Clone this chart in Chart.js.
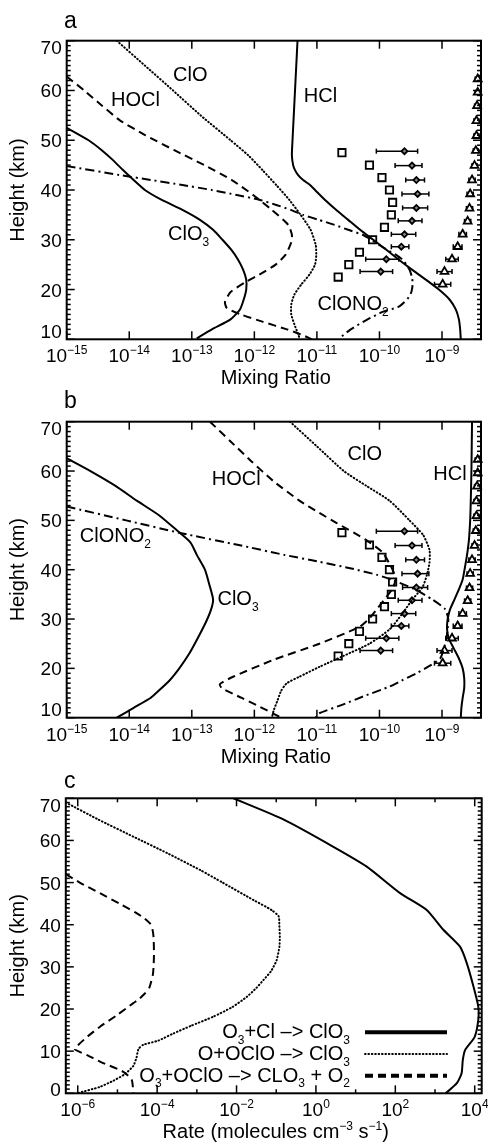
<!DOCTYPE html>
<html>
<head>
<meta charset="utf-8">
<script src="https://cdn.jsdelivr.net/npm/chart.js@4.4.1/dist/chart.umd.min.js"></script>
<style>
  html, body { margin: 0; padding: 0; background: #fff; }
  #wrap { position: relative; width: 488px; height: 1147px; }
  canvas { position: absolute; left: 0; }
</style>
</head>
<body>
<div id="wrap">
  <canvas id="chartA" width="488" height="400" style="top:0px"></canvas>
  <canvas id="chartB" width="488" height="400" style="top:378px"></canvas>
  <canvas id="chartC" width="488" height="389" style="top:758px"></canvas>
</div>
<script>
// ---- panel a: model profiles (height km, log10 mixing ratio) ----
const hclAHeight = [70, 65, 60, 55, 50, 47, 45, 44, 43, 42, 41, 40, 38, 36, 34, 32, 30, 28, 26, 24, 22, 20, 18, 16, 14, 12, 10];
const hclALog = [-11.31, -11.33, -11.35, -11.37, -11.39, -11.40, -11.38, -11.35, -11.30, -11.22, -11.11, -11.03, -10.87, -10.69, -10.50, -10.31, -10.10, -9.89, -9.69, -9.48, -9.26, -9.05, -8.88, -8.78, -8.73, -8.71, -8.70];

const cloAHeight = [70, 65, 60, 55, 50, 47, 44, 41, 38, 35, 32, 29, 27, 25, 23, 21, 19, 17, 15, 13, 11, 10];
const cloALog = [-14.20, -13.75, -13.30, -12.86, -12.38, -12.10, -11.87, -11.65, -11.44, -11.26, -11.10, -11.02, -11.01, -11.03, -11.12, -11.25, -11.36, -11.41, -11.41, -11.36, -11.30, -11.27];

const hoclAHeight = [62.8, 60, 57, 54, 51, 48, 45, 42, 39, 36, 33, 31, 29.5, 27, 25, 23, 21.5, 19.5, 17.5, 16.3, 15, 13.5, 12, 11, 10];
const hoclALog = [-15.0, -14.72, -14.44, -14.15, -13.74, -13.28, -12.80, -12.36, -12.02, -11.72, -11.46, -11.40, -11.41, -11.50, -11.66, -11.92, -12.14, -12.38, -12.47, -12.44, -12.22, -11.86, -11.48, -11.26, -11.08];

const clono2AHeight = [44.8, 43, 42, 41, 40, 39, 38, 37, 36, 35, 34, 33, 32, 31, 30, 29, 28, 27, 26, 25, 24, 22.5, 21, 19.5, 18.5, 17.5, 16.5, 15.5, 14, 12, 10.2];
const clono2ALog = [-15.0, -14.15, -13.65, -13.15, -12.68, -12.28, -11.91, -11.65, -11.42, -11.22, -10.97, -10.72, -10.50, -10.27, -10.13, -10.01, -9.88, -9.74, -9.63, -9.57, -9.52, -9.48, -9.47, -9.49, -9.53, -9.60, -9.70, -9.95, -10.19, -10.46, -10.64];

const clo3AHeight = [52.5, 50, 48, 46, 44, 42, 40, 38, 36, 34, 32, 30, 28, 26, 24, 22, 20, 18, 16, 14, 12, 10.2];
const clo3ALog = [-15.0, -14.65, -14.44, -14.26, -14.10, -13.93, -13.75, -13.48, -13.15, -12.87, -12.66, -12.51, -12.37, -12.26, -12.18, -12.13, -12.13, -12.17, -12.23, -12.38, -12.68, -12.92];

// ---- panel b: model profiles ----
const hclBHeight = [70, 60, 54, 50, 46, 43, 40, 38, 36, 34, 32, 30, 28, 26, 24, 22, 20, 18, 16, 14, 12, 10];
const hclBLog = [-8.52, -8.53, -8.54, -8.55, -8.57, -8.60, -8.64, -8.67, -8.73, -8.80, -8.87, -8.91, -8.92, -8.89, -8.81, -8.73, -8.67, -8.645, -8.645, -8.67, -8.69, -8.70];

const cloBHeight = [70, 65, 60, 57, 54, 50, 47, 44, 41.5, 39, 36.5, 34, 31, 28, 25, 22.5, 20.3, 18.3, 17, 15.5, 13.5, 11.5, 10];
const cloBLog = [-11.43, -11.00, -10.57, -10.21, -9.84, -9.52, -9.30, -9.20, -9.20, -9.24, -9.31, -9.47, -9.64, -9.83, -10.16, -10.58, -10.96, -11.28, -11.48, -11.57, -11.63, -11.69, -11.72];

const hoclBHeight = [70, 66, 62, 58, 54, 51.5, 49.5, 46, 43.5, 40, 38, 36, 34.5, 32, 30, 28.4, 25, 21.7, 18.3, 16.8, 16, 14, 12.2, 10.2];
const hoclBLog = [-12.71, -12.38, -12.05, -11.70, -11.28, -10.96, -10.69, -10.21, -9.95, -9.79, -9.74, -9.80, -9.89, -10.04, -10.17, -10.32, -10.96, -11.70, -12.34, -12.55, -12.52, -12.20, -11.91, -11.60];

const clono2BHeight = [52.8, 50, 47.4, 45, 43, 41.6, 40.3, 39, 37.9, 36, 34, 32, 30, 28, 26, 24, 22, 20.5, 19, 17.5, 16.3, 14.5, 12.5, 10.9, 10];
const clono2BLog = [-15.0, -14.05, -13.17, -12.25, -11.52, -10.96, -10.47, -10.05, -9.79, -9.43, -9.16, -8.95, -8.90, -8.91, -8.93, -8.97, -9.03, -9.20, -9.41, -9.65, -9.84, -10.22, -10.62, -10.96, -11.02];

const clo3BHeight = [62.6, 60, 57, 54, 51, 48, 45.5, 43, 40, 37, 34, 32, 29.5, 26, 23, 20, 17.5, 15, 14, 12, 10];
const clo3BLog = [-15.0, -14.62, -14.22, -13.88, -13.52, -13.24, -13.02, -12.92, -12.79, -12.72, -12.66, -12.69, -12.77, -12.91, -13.04, -13.20, -13.36, -13.57, -13.66, -13.93, -14.20];

// ---- observations (same in panels a and b) ----
const squareHeight = [47.5, 45, 42.5, 40, 37.5, 35, 32.5, 30, 27.5, 25, 22.5];
const squareLog = [-10.60, -10.16, -9.96, -9.84, -9.79, -9.81, -9.92, -10.11, -10.32, -10.49, -10.66];

const diamondHeight = [47.8, 44.9, 42.0, 39.2, 36.4, 33.8, 31.1, 28.6, 26.1, 23.6];
const diamondLog = [-9.60, -9.48, -9.41, -9.39, -9.41, -9.48, -9.60, -9.65, -9.89, -9.98];
const diamondLoLog = [-10.05, -9.75, -9.58, -9.64, -9.63, -9.70, -9.81, -9.81, -10.22, -10.31];
const diamondHiLog = [-9.39, -9.32, -9.28, -9.21, -9.23, -9.32, -9.42, -9.53, -9.69, -9.79];

const triangleHeight = [62.3, 59.6, 56.9, 53.9, 50.9, 47.9, 44.9, 42.0, 39.2, 36.3, 33.7, 31.1, 28.6, 26.1, 23.6, 21.05];
const triangleLog = [-8.43, -8.43, -8.44, -8.45, -8.45, -8.46, -8.48, -8.52, -8.55, -8.56, -8.59, -8.67, -8.75, -8.84, -8.96, -8.99];
const triangleErrLog = [0.04, 0.04, 0.04, 0.04, 0.04, 0.04, 0.04, 0.05, 0.05, 0.05, 0.05, 0.06, 0.07, 0.10, 0.12, 0.13];

// ---- panel c: rates (height km, log10 rate) ----
const o3ClHeight = [70, 65, 58.5, 53.8, 47.5, 43.5, 38.8, 34.8, 30.9, 25.3, 20.6, 17.4, 13.4, 10.3, 7.9, 4.75, 2.4, 0];
const o3ClLog = [-2.08, -0.82, 0.44, 1.28, 2.12, 2.79, 3.21, 3.63, 3.80, 3.97, 4.09, 4.09, 4.00, 3.76, 3.70, 3.67, 3.55, 3.27];

const oOcloHeight = [69, 65, 60.9, 57, 53, 50, 45.9, 43.5, 42, 39.6, 37, 34.8, 31.6, 29, 26.9, 25, 22.9, 20.5, 18.2, 16, 14.2, 12.5, 11.5, 10.5, 8.5, 6.5, 4.5, 3, 1.5, 0];
const oOcloLog = [-6.30, -5.49, -4.60, -3.75, -2.92, -2.35, -1.58, -1.12, -0.94, -0.92, -0.91, -0.92, -0.99, -1.13, -1.32, -1.50, -1.74, -2.10, -2.58, -3.15, -3.59, -3.97, -4.35, -4.47, -4.52, -4.60, -4.82, -5.10, -5.45, -6.02];

const o3OcloHeight = [52, 50, 47.5, 45, 42.7, 41.5, 40.3, 39, 37, 33, 30, 28, 26.5, 25, 23.5, 22.3, 21.4, 18.5, 15.8, 13.5, 11.1, 10.4, 9, 7.5, 5.1, 3.2, 0];
const o3OcloLog = [-6.30, -5.95, -5.44, -4.95, -4.51, -4.32, -4.18, -4.12, -4.09, -4.08, -4.09, -4.11, -4.15, -4.20, -4.33, -4.46, -4.60, -5.02, -5.44, -5.75, -6.03, -6.07, -5.75, -5.44, -4.85, -4.64, -4.60];

// ---- tick labels ----
const mixTickExp = [-15, -14, -13, -12, -11, -10, -9];
const rateTickExp = [-6, -5, -4, -3, -2, -1, 0, 1, 2, 3, 4];
const rateLabelExp = [-6, -4, -2, 0, 2, 4];
const heightTicksAB = [10, 20, 30, 40, 50, 60, 70];
const heightTicksC = [0, 10, 20, 30, 40, 50, 60, 70];

const FONT = '"Liberation Sans", Arial, Helvetica, sans-serif';
const DASH = { solid: [], dot: [0.6, 2.8], dash: [8, 5], dashdot: [9, 4, 2, 4] };

function curve(heights, logs, style) {
  return {
    data: heights.map((h, i) => ({ x: Math.pow(10, logs[i]), y: h })),
    showLine: true,
    pointRadius: 0,
    borderColor: '#000',
    borderWidth: 2,
    borderDash: DASH[style],
    borderCapStyle: style === 'dot' ? 'round' : 'butt',
    tension: 0.2,
    fill: false
  };
}

function markers(heights, logs, shape, radius, fillColor, lo, hi) {
  const ds = {
    data: heights.map((h, i) => ({ x: Math.pow(10, logs[i]), y: h })),
    showLine: false,
    pointStyle: shape,
    pointRadius: radius,
    pointBorderWidth: 1.8,
    pointBorderColor: '#000',
    pointBackgroundColor: fillColor,
    clip: false
  };
  if (lo) {
    ds.errLo = lo.map(v => Math.pow(10, v));
    ds.errHi = hi.map(v => Math.pow(10, v));
  }
  return ds;
}

// rich text: _x or _{..} subscript, ^x or ^{..} superscript
function parseRich(str) {
  const out = [];
  let buf = '', i = 0;
  while (i < str.length) {
    const c = str[i];
    if (c === '_' || c === '^') {
      if (buf) { out.push({ t: buf, m: 0 }); buf = ''; }
      let t;
      if (str[i + 1] === '{') {
        const j = str.indexOf('}', i);
        t = str.slice(i + 2, j);
        i = j + 1;
      } else {
        t = str[i + 1];
        i += 2;
      }
      out.push({ t: t, m: c === '_' ? 1 : 2 });
    } else {
      buf += c;
      i++;
    }
  }
  if (buf) out.push({ t: buf, m: 0 });
  return out;
}

function drawRich(ctx, str, x, y, align, size) {
  const segs = parseRich(str);
  const small = Math.round(size * 0.62);
  let w = 0;
  segs.forEach(s => {
    ctx.font = (s.m ? small : size) + 'px ' + FONT;
    s.w = ctx.measureText(s.t).width;
    w += s.w;
  });
  let cx = align === 'center' ? x - w / 2 : (align === 'right' ? x - w : x);
  ctx.textAlign = 'left';
  ctx.textBaseline = 'alphabetic';
  segs.forEach(s => {
    ctx.font = (s.m ? small : size) + 'px ' + FONT;
    const dy = s.m === 1 ? size * 0.28 : (s.m === 2 ? -size * 0.42 : 0);
    ctx.fillText(s.t, cx, y + dy);
    cx += s.w;
  });
}

function seg(ctx, x1, y1, x2, y2) {
  ctx.beginPath();
  ctx.moveTo(x1, y1);
  ctx.lineTo(x2, y2);
  ctx.stroke();
}

const framePlugin = {
  id: 'frame',
  beforeDatasetsDraw(chart) {
    const { ctx, scales: { x, y } } = chart;
    ctx.save();
    ctx.strokeStyle = '#000';
    ctx.lineWidth = 1.5;
    chart.data.datasets.forEach(ds => {
      if (!ds.errLo) return;
      ds.data.forEach((p, i) => {
        const py = y.getPixelForValue(p.y);
        const x1 = x.getPixelForValue(ds.errLo[i]);
        const x2 = x.getPixelForValue(ds.errHi[i]);
        seg(ctx, x1, py, x2, py);
        seg(ctx, x1, py - 2.5, x1, py + 2.5);
        seg(ctx, x2, py - 2.5, x2, py + 2.5);
      });
    });
    ctx.restore();
  },
  afterDraw(chart, args, opts) {
    const { ctx, chartArea: a, scales: { x, y } } = chart;
    ctx.save();
    ctx.fillStyle = '#000';
    ctx.strokeStyle = '#000';

    // y ticks (minor every km, major at labels), both sides
    ctx.lineWidth = 1.5;
    for (let h = Math.ceil(y.min); h <= y.max; h++) {
      const py = y.getPixelForValue(h);
      const len = opts.yTicks.includes(h) ? 8 : 4;
      seg(ctx, a.left, py, a.left + len, py);
      seg(ctx, a.right, py, a.right - len, py);
    }
    // x ticks, top and bottom
    opts.xTickExp.forEach(e => {
      const px = x.getPixelForValue(Math.pow(10, e));
      const len = opts.xLabelExp.includes(e) ? 8 : 4;
      seg(ctx, px, a.bottom, px, a.bottom - len);
      seg(ctx, px, a.top, px, a.top + len);
    });
    // box
    ctx.lineWidth = 2;
    ctx.strokeRect(a.left, a.top, a.right - a.left, a.bottom - a.top);

    // x tick labels
    opts.xLabelExp.forEach(e => {
      const px = x.getPixelForValue(Math.pow(10, e));
      drawRich(ctx, '10^{' + String(e).replace('-', '\u2212') + '}', px, a.bottom + 23, 'center', 19);
    });
    // y tick labels
    ctx.font = '19px ' + FONT;
    ctx.textAlign = 'right';
    ctx.textBaseline = 'alphabetic';
    opts.yTicks.forEach(h => {
      let base = y.getPixelForValue(h) + 7;
      base = Math.max(a.top + 13.5, Math.min(a.bottom + opts.yLabelLow, base));
      ctx.fillText(String(h), a.left - 5, base);
    });

    // axis titles
    drawRich(ctx, opts.xTitle, (a.left + a.right) / 2 + 2, a.bottom + 45, 'center', 20);
    ctx.save();
    ctx.translate(24, (a.top + a.bottom) / 2);
    ctx.rotate(-Math.PI / 2);
    drawRich(ctx, 'Height (km)', 0, 0, 'center', 20);
    ctx.restore();

    // panel letter
    ctx.font = '23px ' + FONT;
    ctx.textAlign = 'left';
    ctx.fillText(opts.letter, 64, a.top + opts.letterDy);

    // curve labels
    (opts.labels || []).forEach(l => {
      drawRich(ctx, l.text, x.getPixelForValue(Math.pow(10, l.logX)), y.getPixelForValue(l.h), 'left', 20);
    });

    // legend
    (opts.legend || []).forEach(l => {
      drawRich(ctx, l.text, 350, l.base, 'right', 20);
      ctx.save();
      ctx.setLineDash(DASH[l.style]);
      ctx.lineCap = l.style === 'dot' ? 'round' : 'butt';
      ctx.lineWidth = l.style === 'dot' ? 2 : 4;
      seg(ctx, 365, l.base - 6, 447, l.base - 6);
      ctx.restore();
    });
    ctx.restore();
  }
};

function makeChart(id, datasets, padding, xMin, xMax, yMin, yMax, frame) {
  return new Chart(document.getElementById(id), {
    type: 'scatter',
    data: { datasets: datasets },
    options: {
      responsive: false,
      animation: false,
      layout: { padding: padding },
      scales: {
        x: { type: 'logarithmic', display: false, min: xMin, max: xMax, bounds: 'data' },
        y: { type: 'linear', display: false, min: yMin, max: yMax }
      },
      plugins: { legend: { display: false }, tooltip: { enabled: false }, frame: frame }
    },
    plugins: [framePlugin]
  });
}

function observations() {
  return [
    markers(squareHeight, squareLog, 'rect', 5.2, '#fff'),
    markers(diamondHeight, diamondLog, 'rectRot', 3, '#888', diamondLoLog, diamondHiLog),
    markers(triangleHeight, triangleLog, 'triangle', 4.5, '#fff',
      triangleLog.map((v, i) => v - triangleErrLog[i]), triangleLog.map((v, i) => v + triangleErrLog[i]))
  ];
}

makeChart('chartA', [
  curve(hclAHeight, hclALog, 'solid'),
  curve(cloAHeight, cloALog, 'dot'),
  curve(hoclAHeight, hoclALog, 'dash'),
  curve(clono2AHeight, clono2ALog, 'dashdot'),
  curve(clo3AHeight, clo3ALog, 'solid')
].concat(observations()),
  { left: 66.7, top: 40.7, right: 6.3, bottom: 60.7 }, 1e-15, 4.2e-9, 10, 70,
  {
    letter: 'a', letterDy: -12.3, xTitle: 'Mixing Ratio',
    xTickExp: mixTickExp, xLabelExp: mixTickExp, yTicks: heightTicksAB, yLabelLow: -1.5,
    labels: [
      { text: 'ClO', logX: -13.30, h: 61.9 },
      { text: 'HOCl', logX: -14.29, h: 56.9 },
      { text: 'HCl', logX: -11.21, h: 57.7 },
      { text: 'ClO_3', logX: -13.38, h: 29.95 },
      { text: 'ClONO_2', logX: -10.99, h: 15.9 }
    ]
  });

makeChart('chartB', [
  curve(hclBHeight, hclBLog, 'solid'),
  curve(cloBHeight, cloBLog, 'dot'),
  curve(hoclBHeight, hoclBLog, 'dash'),
  curve(clono2BHeight, clono2BLog, 'dashdot'),
  curve(clo3BHeight, clo3BLog, 'solid')
].concat(observations()),
  { left: 66.7, top: 43.7, right: 6.3, bottom: 60.3 }, 1e-15, 4.2e-9, 10, 70,
  {
    letter: 'b', letterDy: -13.3, xTitle: 'Mixing Ratio',
    xTickExp: mixTickExp, xLabelExp: mixTickExp, yTicks: heightTicksAB, yLabelLow: -1.5,
    labels: [
      { text: 'ClO', logX: -10.51, h: 62.3 },
      { text: 'HOCl', logX: -12.68, h: 57.1 },
      { text: 'HCl', logX: -9.14, h: 58.1 },
      { text: 'ClONO_2', logX: -14.79, h: 45.6 },
      { text: 'ClO_3', logX: -12.59, h: 32.8 }
    ]
  });

makeChart('chartC', [
  curve(o3ClHeight, o3ClLog, 'solid'),
  curve(oOcloHeight, oOcloLog, 'dot'),
  curve(o3OcloHeight, o3OcloLog, 'dash')
],
  { left: 65.8, top: 40.3, right: 6.3, bottom: 53.7 }, 5e-7, 1.5e4, 0, 70,
  {
    letter: 'c', letterDy: -10, xTitle: 'Rate (molecules cm^{\u22123} s^{\u22121})',
    xTickExp: rateTickExp, xLabelExp: rateLabelExp, yTicks: heightTicksC, yLabelLow: 3,
    legend: [
      { text: 'O_3+Cl \u2013> ClO_3', base: 280.3, style: 'solid' },
      { text: 'O+OClO \u2013> ClO_3', base: 302, style: 'dot' },
      { text: 'O_3+OClO \u2013> CLO_3 + O_2', base: 323.7, style: 'dash' }
    ]
  });
</script>
</body>
</html>
